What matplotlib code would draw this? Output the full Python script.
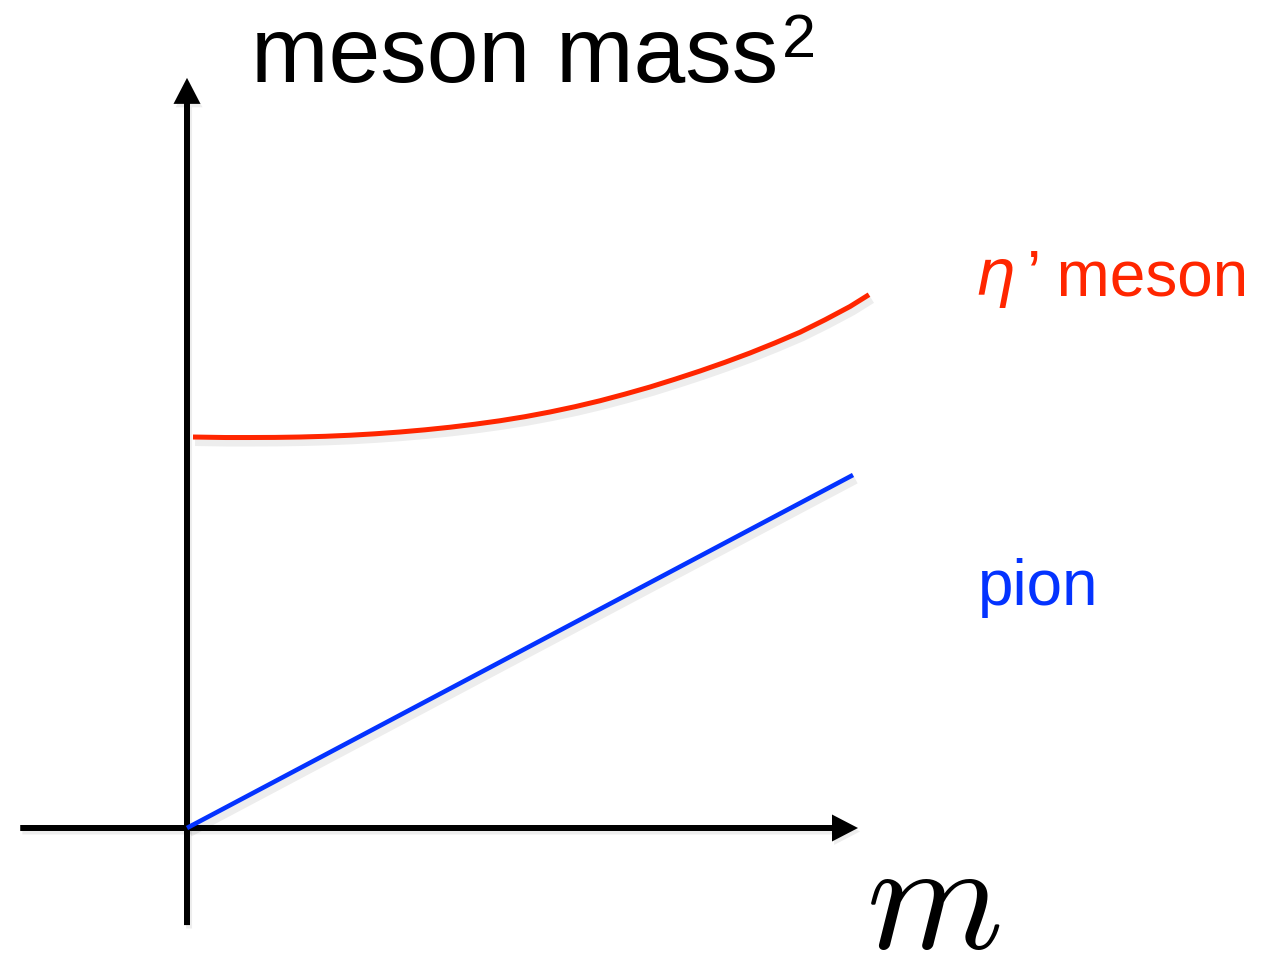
import matplotlib as mpl
import matplotlib.pyplot as plt
import matplotlib.patheffects as pe

# pion: mass^2 grows linearly with the quark mass m
pion_m = [0.0, 1.0]
pion_mass2 = [0.0, 1.0]

# eta' meson: stays massive at m = 0, rises slowly with m
eta_m = [0.0090, 0.0571, 0.0946, 0.1321, 0.1697, 0.2072, 0.2447, 0.2823,
         0.3198, 0.3574, 0.3949, 0.4324, 0.4700, 0.5075, 0.5450, 0.5826,
         0.6201, 0.6577, 0.6952, 0.7327, 0.7703, 0.8078, 0.8453, 0.8829,
         0.9204, 0.9580, 0.9955, 1.0240]
eta_mass2 = [1.1076, 1.1062, 1.1062, 1.1065, 1.1076, 1.1096, 1.1126, 1.1167,
             1.1218, 1.1280, 1.1353, 1.1439, 1.1537, 1.1652, 1.1785, 1.1935,
             1.2103, 1.2292, 1.2493, 1.2714, 1.2946, 1.3193, 1.3456, 1.3742,
             1.4044, 1.4397, 1.4773, 1.5108]

RED = '#ff2600'
BLUE = '#0433ff'

mpl.rcParams['font.family'] = 'Liberation Sans'

W, H = 1263, 956
fig = plt.figure(figsize=(W / 100, H / 100), dpi=100)
ax = fig.add_axes([0, 0, 1, 1])

# data units: 666 px per unit of m, 353 px per unit of mass^2, origin at (187, 828)
ax.set_xlim(-187 / 666, (W - 187) / 666)
ax.set_ylim((828 - H) / 353, 828 / 353)
ax.axis('off')

shadow = [pe.SimpleLineShadow(offset=(1.5, -2.5), shadow_color='k', alpha=0.07, linewidth=8),
          pe.Normal()]
patch_shadow = [pe.withSimplePatchShadow(offset=(1.5, -2.5), shadow_rgbFace='k', alpha=0.07)]

# axes with arrow heads
ax.arrow(-0.2504, 0, 1.2579, 0, width=6 / 353, head_width=27 / 353, head_length=26 / 666,
         length_includes_head=True, fc='black', ec='none', path_effects=patch_shadow)
ax.arrow(0, -0.275, 0, 2.4, width=6 / 666, head_width=27 / 666, head_length=26 / 353,
         length_includes_head=True, fc='black', ec='none', path_effects=patch_shadow)

# curves
ax.plot(eta_m, eta_mass2, color=RED, lw=3.6, solid_capstyle='butt',
        solid_joinstyle='round', path_effects=shadow)
ax.plot(pion_m, pion_mass2, color=BLUE, lw=3.3, solid_capstyle='butt', path_effects=shadow)

# labels
def fx(px):
    return px / W

def fy(py):
    return 1 - py / H

fig.text(fx(251), fy(82), 'meson mass', fontsize=67, ha='left', va='baseline')
fig.text(fx(782), fy(57), '2', fontsize=44, ha='left', va='baseline')

fig.text(fx(974), fy(295), r'$\eta$', fontsize=46, color=RED, ha='left', va='baseline',
         math_fontfamily='dejavusans')
fig.text(fx(1027), fy(295), '\u2019 meson', fontsize=46, color=RED, ha='left', va='baseline')
fig.text(fx(978), fy(605), 'pion', fontsize=46, color=BLUE, ha='left', va='baseline')

fig.text(fx(866), fy(948), r'$m$', fontsize=112, ha='left', va='baseline', math_fontfamily='cm')

fig.savefig('out.png', dpi=100)
